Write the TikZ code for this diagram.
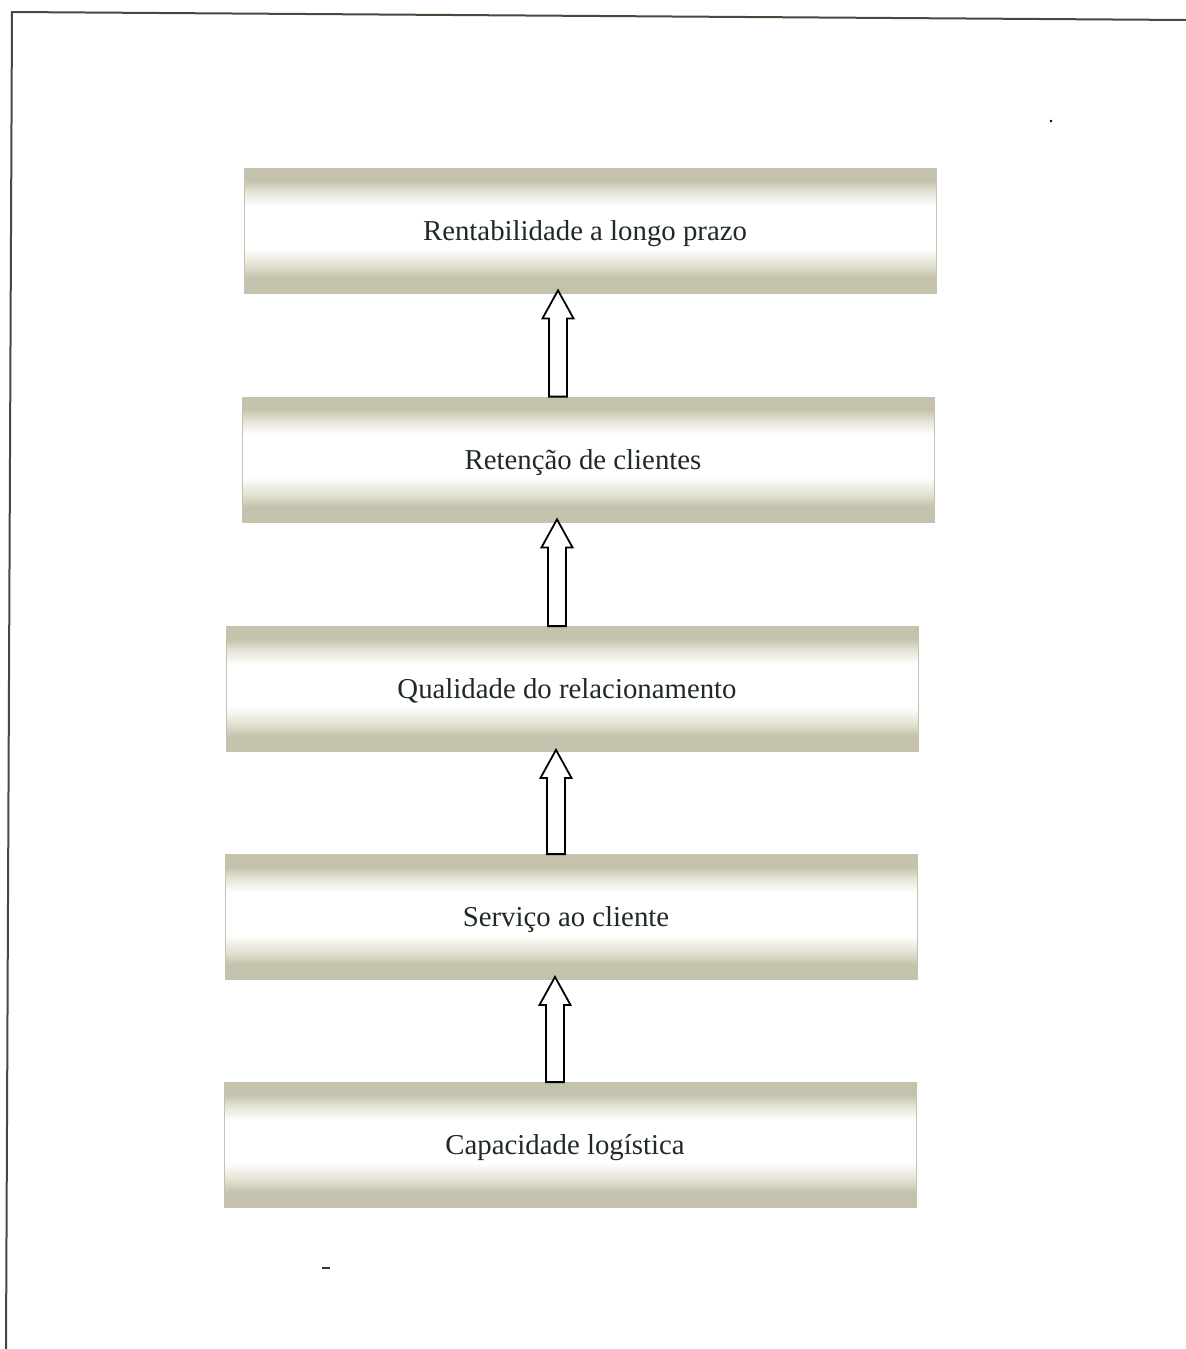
\documentclass[tikz,border=0pt]{standalone}
\usepackage{fontspec}
\setmainfont{Liberation Serif}
\usetikzlibrary{calc}
\definecolor{bandc}{RGB}{196,194,172}
\definecolor{bandm}{RGB}{226,225,210}
\definecolor{inkc}{RGB}{32,42,36}
\definecolor{framec}{RGB}{70,72,58}
% grey band at top and bottom, white strip through the middle
\pgfdeclareverticalshading{band}{100bp}{color(0bp)=(bandc); color(25bp)=(bandc); color(31bp)=(bandc); color(36bp)=(bandm); color(43bp)=(white); color(60bp)=(white); color(66bp)=(bandm); color(70bp)=(bandc); color(75bp)=(bandc); color(100bp)=(bandc)}
% hollow block arrow from #1 (base) up to the height of #2 (tip)
\newcommand\liftarrow[2]{%
  \draw[uparrow] let \p1=(#1), \p2=(#2) in
    (\x1-4.5pt,\y1) -- (\x1-4.5pt,\y2-14pt) -- (\x1-7.75pt,\y2-14pt) -- (\x1,\y2)
    -- (\x1+7.75pt,\y2-14pt) -- (\x1+4.5pt,\y2-14pt) -- (\x1+4.5pt,\y1) -- cycle;}
% keeps the label a little left of the box centre
\newcommand\lbl[1]{#1\hspace*{5pt}}
\begin{document}
\begin{tikzpicture}[x=0.5pt,y=-0.5pt,
  stage/.style={rectangle, shading=band, draw=bandc, line width=0.4pt,
    minimum width=346pt, minimum height=62.5pt, inner sep=0pt,
    text height=9.5pt, text depth=0pt,
    font=\fontsize{14.4}{16}\selectfont, text=inkc},
  uparrow/.style={draw=black, line width=0.9pt, fill=white, line join=miter}]
\useasboundingbox (0,0) rectangle (1186,1349);

% page frame
\draw[framec, line width=1pt] (6,1349) -- (12,12) -- (1186,20);

% stages
\node[stage] (b1) at (590,230.5) {\lbl{Rentabilidade a longo prazo}};
\node[stage] (b2) at (588,459.5) {\lbl{Retenção de clientes}};
\node[stage] (b3) at (572,689)   {\lbl{Qualidade do relacionamento}};
\node[stage] (b4) at (571,917)   {\lbl{Serviço ao cliente}};
\node[stage] (b5) at (570,1145)  {\lbl{Capacidade logística}};

% arrows between stages
\liftarrow{$(b2.north)+(-30,0)$}{$(b1.south)+(-32,-3)$}
\liftarrow{$(b3.north)+(-15,0)$}{$(b2.south)+(-31,-3)$}
\liftarrow{$(b4.north)+(-15,0)$}{$(b3.south)+(-16,-2)$}
\liftarrow{$(b5.north)+(-15,0)$}{$(b4.south)+(-16,-3)$}

% stray marks
\fill[black] (1051,121) circle (1.3);
\fill[black!80] (322,1266.5) rectangle (330,1269);
\end{tikzpicture}
\end{document}
